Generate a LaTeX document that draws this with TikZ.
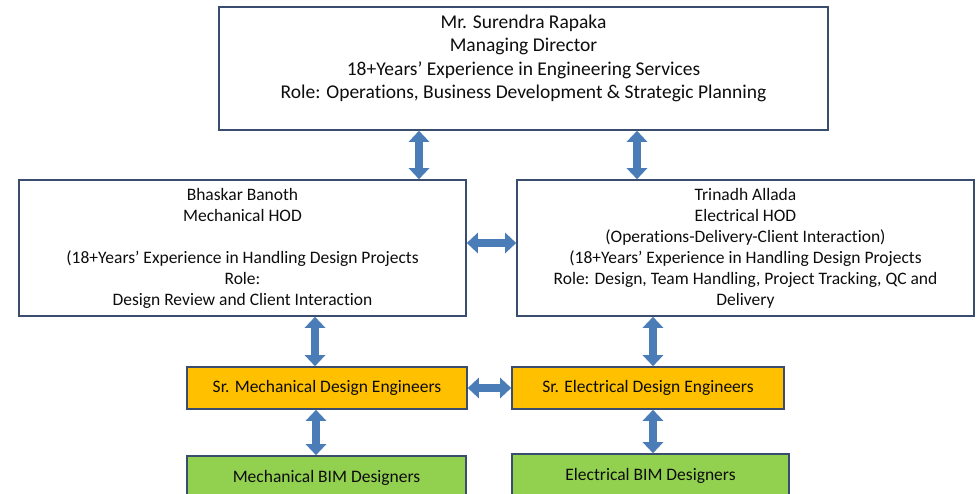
\documentclass[tikz,border=0pt]{standalone}
\usepackage{fontspec}
\setmainfont{Carlito}[Ligatures=NoCommon]
\usetikzlibrary{arrows.meta,positioning}
\definecolor{edge}{HTML}{3A4D6E}
\definecolor{arrowblue}{HTML}{4A7CB8}
\definecolor{senior}{HTML}{FFC000}
\definecolor{bim}{HTML}{92D050}
\tikzset{box/.style={draw=edge,line width=1.6pt,align=center,text=black!95,inner sep=0pt,
    font=\fontsize{17.5}{21}\selectfont},
  link/.style={arrowblue,line width=8pt,
    {Triangle[width=20pt,length=11pt]}-{Triangle[width=20pt,length=11pt]}}}

\begin{document}
\begin{tikzpicture}[x=1pt,y=-1pt]
  \useasboundingbox (0,0) rectangle (978,494);
  \node [box,minimum width=609pt,minimum height=123pt,font=\fontsize{19.5}{23.5}\selectfont] (md) at (523.5,68.5)
    {Mr. Surendra Rapaka\\Managing Director\\18+Years’ Experience in Engineering Services\\Role: Operations, Business Development \& Strategic Planning\\ \mbox{}};

  \node [box,minimum width=447pt,minimum height=136pt] (mech) at (242.5,248)
    {Bhaskar Banoth\\Mechanical HOD\\[21pt](18+Years’ Experience in Handling Design Projects\\Role:\\Design Review and Client Interaction};
  \node [box,minimum width=457pt,minimum height=136pt] (elec) at (745.5,248)
    {Trinadh Allada\\Electrical HOD\\(Operations-Delivery-Client Interaction)\\(18+Years’ Experience in Handling Design Projects\\Role: Design, Team Handling, Project Tracking, QC and\\Delivery};

  \node [box,fill=senior,minimum width=280pt,minimum height=42pt] (srmech) at (327,388) {Sr. Mechanical Design Engineers};
  \node [box,fill=senior,minimum width=272pt,minimum height=42pt] (srelec) at (648,388) {\raisebox{3pt}{Sr. Electrical Design Engineers}};

  \node [box,fill=bim,minimum width=279pt,minimum height=44pt] (bimmech) at (326.5,478) {Mechanical BIM Designers};
  \node [box,fill=bim,minimum width=277pt,minimum height=44pt] (bimelec) at (650.5,476) {Electrical BIM Designers};

  \draw [link] ([xshift=-104.5pt]md.south) -- ([xshift=176.5pt]mech.north);
  \draw [link] ([xshift=113.5pt]md.south) -- ([xshift=-108.5pt]elec.north);
  \draw [link] ([yshift=5pt]mech.east) -- ([yshift=5pt]elec.west);

  \draw [link] ([xshift=72.5pt]mech.south) -- ([xshift=-12pt]srmech.north);
  \draw [link] ([xshift=-92.5pt]elec.south) -- ([xshift=5pt]srelec.north);
  \draw [link] (srmech.east) -- (srelec.west);

  \draw [link] ([xshift=-11pt]srmech.south) -- ([xshift=-10.5pt]bimmech.north);
  \draw [link] ([xshift=5pt]srelec.south) -- ([xshift=2.5pt]bimelec.north);
\end{tikzpicture}
\end{document}
